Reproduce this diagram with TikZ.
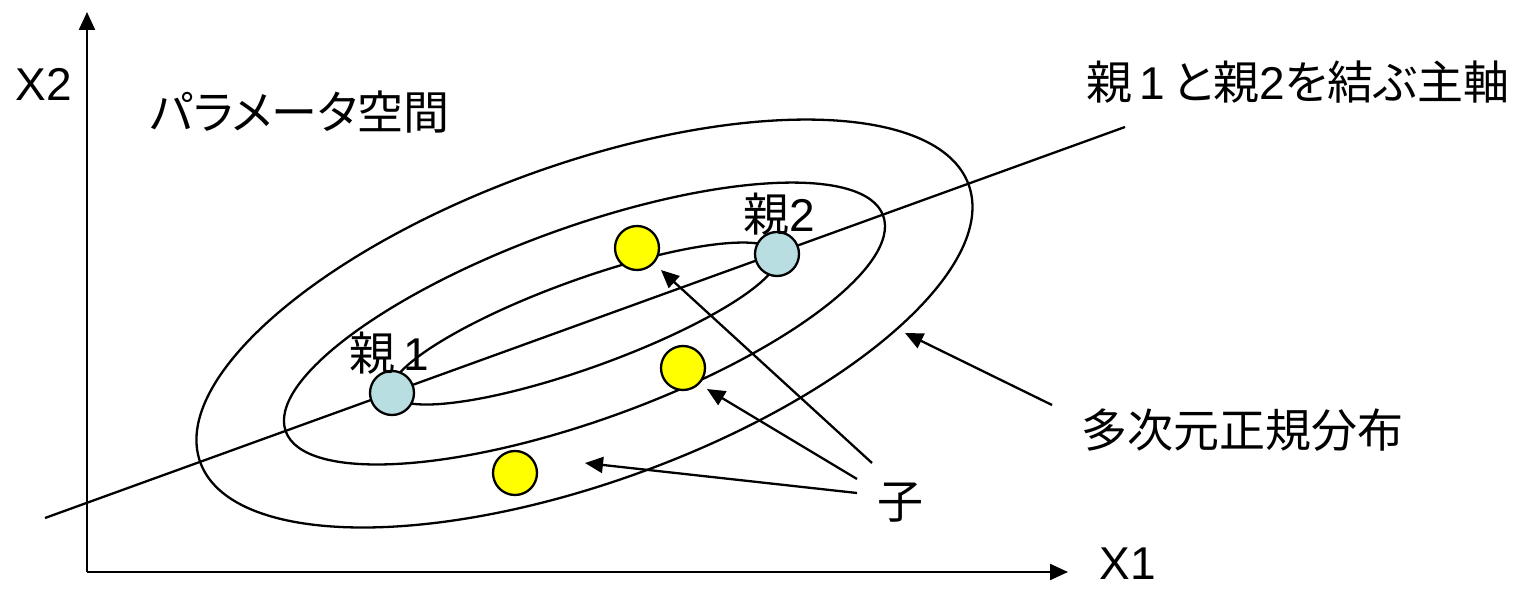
\documentclass[tikz,border=0pt]{standalone}
\usepackage{fontspec}
\setmainfont{Noto Sans CJK JP}[RawFeature=+palt]
\newfontfamily\latinfont{Liberation Sans}
\usetikzlibrary{arrows.meta}
\definecolor{parentblue}{RGB}{185,222,226}
\definecolor{childyellow}{RGB}{255,255,0}
\begin{document}
\begin{tikzpicture}[x=0.5pt,y=0.5pt,
  line width=1.15pt,
  lbl/.style={inner sep=0pt,font=\fontsize{23}{23}\selectfont},
  parent/.style={circle,draw,fill=parentblue,minimum size=22pt,inner sep=0pt},
  child/.style={circle,draw,fill=childyellow,minimum size=22pt,inner sep=0pt},
  tip/.style={-{Triangle[length=9pt,width=8pt]}},
  axis/.style={-{Triangle[length=9pt,width=8pt]}}]
\useasboundingbox (0,0) rectangle (1537,590);
% axes
\coordinate (O) at (87,18);
\coordinate (Ytop) at (87,578);
\coordinate (Xend) at (1068,18);
\draw[axis] (O) -- (Ytop);
\draw[axis] (O) -- (Xend);
% ellipses (concentric, rotated)
\coordinate (C) at (584.5,266.5);
\draw[rotate around={19.85:(C)}] (C) ellipse [x radius=408.5, y radius=159];
\draw[rotate around={19.85:(C)}] (C) ellipse [x radius=317.6, y radius=96.5];
\draw[rotate around={19.85:(C)}] (C) ellipse [x radius=205, y radius=44];
% principal axis
\coordinate (La) at (45,72);
\coordinate (Lb) at (1125,463);
\draw (La) -- (Lb);
% parents and children
\node[parent] (P1) at (392,197) {};
\node[parent] (P2) at (777,336) {};
\node[child] (Y1) at (637,342) {};
\node[child] (Y2) at (683,222) {};
\node[child] (Y3) at (515,117) {};
% labels
\node[lbl] (x2) at (44,506) {\latinfont X2};
\node[lbl] (x1) at (1128,26) {\latinfont X1};
\node[lbl] (space) at (300,478) {パラメータ空間};
\node[lbl] (axislbl) at (1298,508) {親\,{\latinfont 1}\,と親{\latinfont 2}を結ぶ主軸};
\node[lbl] (dist) at (1242,160) {多次元正規分布};
\node[lbl] (ko) at (900,87) {子};
\node[lbl] (p1l) at (389,237) {親\,{\latinfont 1}};
\node[lbl] (p2l) at (779,376) {親{\latinfont 2}};
% arrows
\coordinate (a1s) at (872,127); \coordinate (a1t) at (661,320);
\coordinate (a2s) at (857,111); \coordinate (a2t) at (707,201);
\coordinate (a3s) at (857,97);  \coordinate (a3t) at (585,127);
\coordinate (ms) at (1052,185); \coordinate (mt) at (905,257);
\draw[tip] (a1s) -- (a1t);
\draw[tip] (a2s) -- (a2t);
\draw[tip] (a3s) -- (a3t);
\draw[tip] (ms) -- (mt);
\end{tikzpicture}
\end{document}
